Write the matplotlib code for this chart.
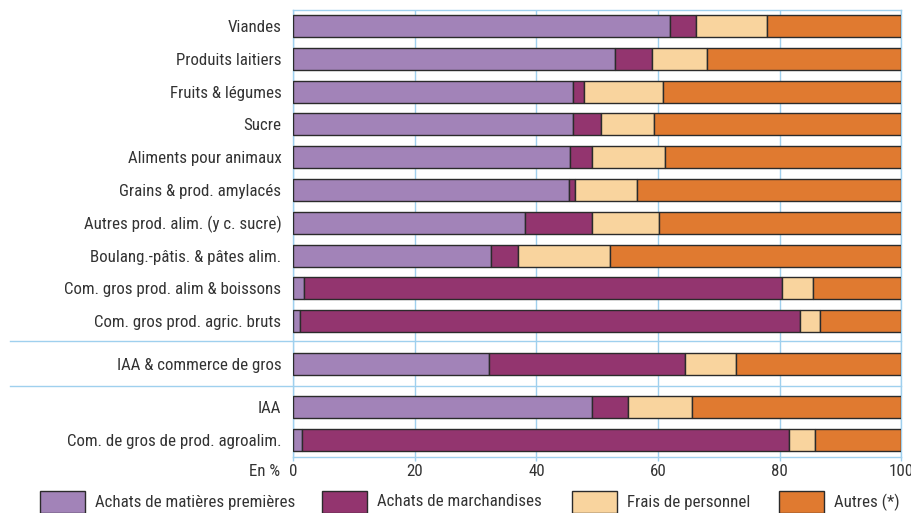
import matplotlib
matplotlib.use("Agg")
import matplotlib.pyplot as plt
from matplotlib.patches import Rectangle
from matplotlib.transforms import blended_transform_factory
from matplotlib import font_manager

categories = ["Viandes", "Produits laitiers", "Fruits & légumes", "Sucre",
              "Aliments pour animaux", "Grains & prod. amylacés",
              "Autres prod. alim. (y c. sucre)", "Boulang.-pâtis. & pâtes alim.",
              "Com. gros prod. alim & boissons", "Com. gros prod. agric. bruts",
              "IAA & commerce de gros", "IAA", "Com. de gros de prod. agroalim."]
series_names = ["Achats de matières premières", "Achats de marchandises",
                "Frais de personnel", "Autres (*)"]
matieres = [62.0, 52.9, 46.0, 46.0, 45.6, 45.3, 38.1, 32.6, 1.8, 1.1, 32.2, 49.2, 1.4]
marchandises = [4.3, 6.1, 1.8, 4.7, 3.6, 1.1, 11.1, 4.4, 78.6, 82.2, 32.3, 5.9, 80.1]
personnel = [11.6, 9.1, 13.1, 8.7, 12.0, 10.1, 10.9, 15.1, 5.1, 3.3, 8.3, 10.5, 4.4]
autres = [round(100 - a - b - c, 1) for a, b, c in zip(matieres, marchandises, personnel)]
xticks = [0, 20, 40, 60, 80, 100]

positions = [0, 1, 2, 3, 4, 5, 6, 7, 8, 9, 10.31, 11.63, 12.62]
separators = [9.60, 10.97]
colors = ["#A283B8", "#93356F", "#F9D49E", "#E07A30"]
edge = "#2b2b2b"
grid_c = "#9fd0ee"
txt_c = "#333333"

avail = {f.name for f in font_manager.fontManager.ttflist}
fam = ["Roboto Condensed", "Archivo Narrow", "PT Sans Narrow", "Liberation Sans", "DejaVu Sans"]
fam = [f for f in fam if f in avail] or ["DejaVu Sans"]
plt.rcParams["font.family"] = fam
FS = 12.2

fig = plt.figure(figsize=(9.12, 5.13), dpi=100)
ax = fig.add_axes([0.3216, 0.1086, 0.6664, 0.8719])

left = [0] * len(categories)
for vals, col in zip([matieres, marchandises, personnel, autres], colors):
    ax.barh(positions, vals, left=left, height=0.67, color=col,
            edgecolor=edge, linewidth=1.0, zorder=3)
    left = [l + v for l, v in zip(left, vals)]

ax.set_xlim(0, 100)
ax.set_ylim(13.15, -0.49)
ax.set_yticks(positions)
ax.set_yticklabels(categories, fontsize=FS, color=txt_c)
ax.tick_params(axis="y", length=0, pad=8.5)
ax.set_xticks(xticks)
ax.set_xticklabels([str(t) for t in xticks], fontsize=FS, color=txt_c)
ax.tick_params(axis="x", length=3, color=grid_c, pad=1.5, width=1)
for s in ax.spines.values():
    s.set_color(grid_c)
    s.set_linewidth(1.0)
ax.grid(axis="x", color=grid_c, linewidth=1.0, zorder=0)

tr = blended_transform_factory(fig.transFigure, ax.transData)
for sy in separators:
    ax.plot([10 / 912, 0.988], [sy, sy], transform=tr, color=grid_c,
            linewidth=1.0, clip_on=False, zorder=1)

fig.text(280 / 912, 1 - 471 / 513, "En %", ha="right", va="center",
         fontsize=FS, color=txt_c)

# legend
leg_x = [40, 322, 572, 779]
for x, col, name in zip(leg_x, colors, series_names):
    fig.patches.append(Rectangle((x / 912, 1 - 513 / 513), 45 / 912, 22 / 513,
                                 transform=fig.transFigure, facecolor=col,
                                 edgecolor=edge, linewidth=1.0))
    fig.text((x + 55) / 912, 1 - 502 / 513, name, ha="left", va="center",
             fontsize=FS, color=txt_c)

fig.savefig("out.png", dpi=100)
